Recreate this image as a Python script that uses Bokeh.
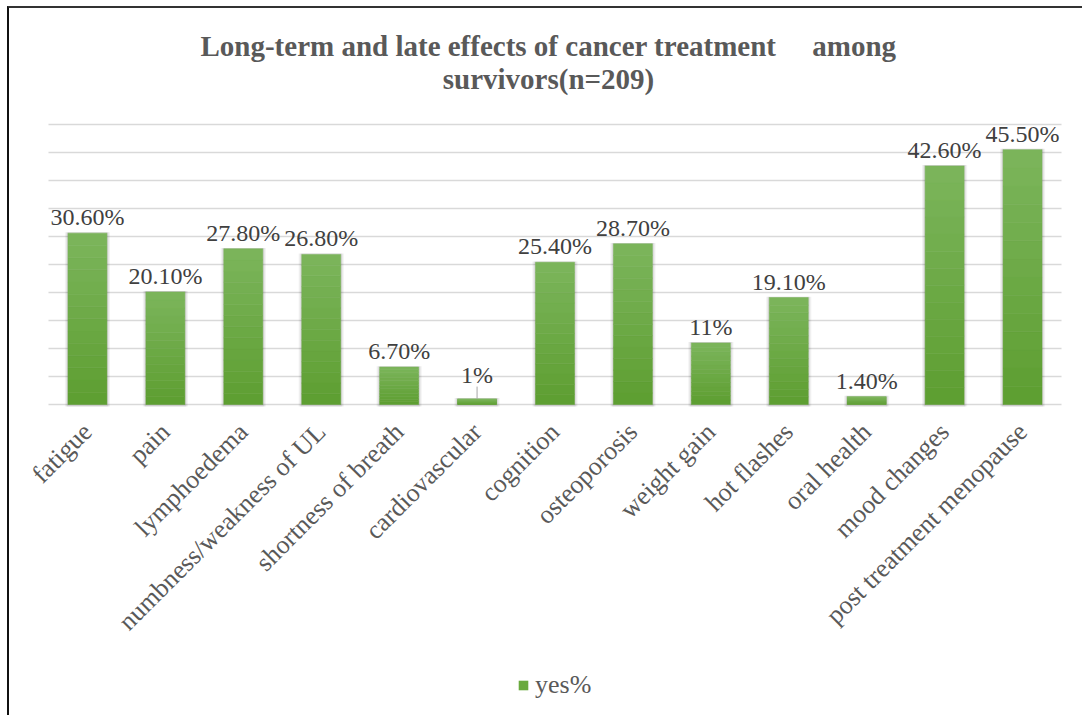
from bokeh.plotting import figure
from bokeh.models import (ColumnDataSource, LabelSet, Label, FixedTicker, Legend,
                          LegendItem, Range1d)
from bokeh.core.properties import value
from bokeh.embed import file_html
from bokeh.resources import INLINE

categories = ["fatigue", "pain", "lymphoedema", "numbness/weakness of UL",
              "shortness of breath", "cardiovascular", "cognition", "osteoporosis",
              "weight gain", "hot flashes", "oral health", "mood changes",
              "post treatment menopause"]
values = [30.6, 20.1, 27.8, 26.8, 6.7, 1.0, 25.4, 28.7, 11.0, 19.1, 1.4, 42.6, 45.5]
value_labels = ["30.60%", "20.10%", "27.80%", "26.80%", "6.70%", "1%", "25.40%",
                "28.70%", "11%", "19.10%", "1.40%", "42.60%", "45.50%"]
series_name = "yes%"
title_lines = ["Long-term and late effects of cancer treatment \u00a0\u00a0\u00a0\u00a0among",
               "survivors(n=209)"]
y_ticks = [0, 5, 10, 15, 20, 25, 30, 35, 40, 45, 50]

FONT = "Liberation Serif"
BOTTOM_COLOR = (0x5d, 0x9e, 0x30)
TOP_COLOR = (0x7c, 0xb5, 0x5c)

# canvas / layout geometry
W, H = 1075, 709
BASE_PX = 396          # pixel row (from top) of the value-axis zero
PX_PER_UNIT = 5.6      # pixels per percentage point
LEFT_PX = 39           # left edge of first category slot
SLOT_PX = 1013 / len(categories)

pos = list(range(len(categories)))
x_start = -(LEFT_PX + SLOT_PX / 2) / SLOT_PX
x_end = x_start + W / SLOT_PX

p = figure(x_range=Range1d(x_start, x_end),
           y_range=Range1d(-(H - BASE_PX) / PX_PER_UNIT, BASE_PX / PX_PER_UNIT),
           width=W, height=H, output_backend="svg", toolbar_location=None,
           min_border_left=0, min_border_right=0, min_border_top=0,
           min_border_bottom=0)
# outer chart frame of the reference (left and top edges visible)
p.styles = {"margin-left": "7px", "margin-top": "6px",
            "border-left": "2px solid #111111", "border-top": "2px solid #333333"}
p.outline_line_color = None
p.background_fill_color = "white"
p.border_fill_color = "white"
p.xgrid.visible = False
p.ygrid.visible = False
p.yaxis.visible = False

# horizontal gridlines spanning the category area
p.segment(x0=[pos[0] - 0.5] * len(y_ticks), x1=[pos[-1] + 0.5] * len(y_ticks),
          y0=y_ticks, y1=y_ticks, line_color="#d9d9d9", line_width=1.5)

xa = p.xaxis[0]
xa.fixed_location = 0
xa.ticker = FixedTicker(ticks=pos)
xa.major_label_overrides = {i: c for i, c in zip(pos, categories)}
xa.axis_line_color = None
xa.major_tick_line_color = None
xa.minor_tick_line_color = None
xa.major_label_orientation = 0.785398
xa.major_label_text_font = FONT
xa.major_label_text_font_size = "26px"
xa.major_label_text_color = "#595959"
xa.major_label_standoff = 17

# soft shadow behind bars
for k, a in [(0.04, 0.05), (0.025, 0.06), (0.012, 0.07)]:
    p.vbar(x=pos, top=[v + 0.15 for v in values], bottom=-0.35,
           width=0.5 + 2 * k, fill_color="black", fill_alpha=a, line_color=None)

# gradient bars built from slices of each value
N = 14
xs, tops, bottoms, colors = [], [], [], []
for xi, v in zip(pos, values):
    for i in range(N):
        f = (i + 0.5) / N
        col = tuple(int(round(BOTTOM_COLOR[j] + (TOP_COLOR[j] - BOTTOM_COLOR[j]) * f)) for j in range(3))
        xs.append(xi)
        bottoms.append(v * i / N)
        tops.append(v * (i + 1) / N)
        colors.append("#%02x%02x%02x" % col)
src = ColumnDataSource(dict(x=xs, top=tops, bottom=bottoms, color=colors))
p.vbar(x="x", top="top", bottom="bottom", width=0.5, source=src,
       fill_color="color", line_color="color", line_width=0.5)

legend_r = p.vbar(x=[pos[0]], top=[0], width=0.0, fill_color="#6aaa3e",
                  line_color=None)

# data labels
lab_off = [16 if v < 1.2 else 8 for v in values]
lsrc = ColumnDataSource(dict(x=pos, y=values, text=value_labels, off=lab_off))
p.add_layout(LabelSet(x="x", y="y", text="text", source=lsrc, y_offset="off",
                      text_align="center", text_baseline="alphabetic",
                      text_font=value(FONT), text_font_size="24px",
                      text_color="#404040"))

# leader line for the small label
small = [(xi, v) for xi, v in zip(pos, values) if v < 1.2]
p.segment(x0=[s[0] for s in small], y0=[s[1] for s in small],
          x1=[s[0] for s in small], y1=[s[1] + 2.2 for s in small],
          line_color="#a6a6a6", line_width=1)

# title (two lines)
title_x = (539 - LEFT_PX - SLOT_PX / 2) / SLOT_PX
p.add_layout(Label(x=title_x, y=(BASE_PX - 37) / PX_PER_UNIT, text=title_lines[0],
                   text_align="center", text_baseline="middle", text_font=FONT,
                   text_font_style="bold", text_font_size="29px", text_color="#595959"))
p.add_layout(Label(x=title_x, y=(BASE_PX - 70) / PX_PER_UNIT, text=title_lines[1],
                   text_align="center", text_baseline="middle", text_font=FONT,
                   text_font_style="bold", text_font_size="29px", text_color="#595959"))

legend = Legend(items=[LegendItem(label=series_name, renderers=[legend_r])],
                location=(508, 17), orientation="horizontal",
                label_text_font=FONT, label_text_font_size="26px",
                label_text_color="#595959", glyph_width=12, glyph_height=12,
                padding=0, margin=0, border_line_color=None,
                background_fill_alpha=0, label_standoff=6)
p.add_layout(legend)

open("out.html", "w").write(file_html(p, INLINE))
